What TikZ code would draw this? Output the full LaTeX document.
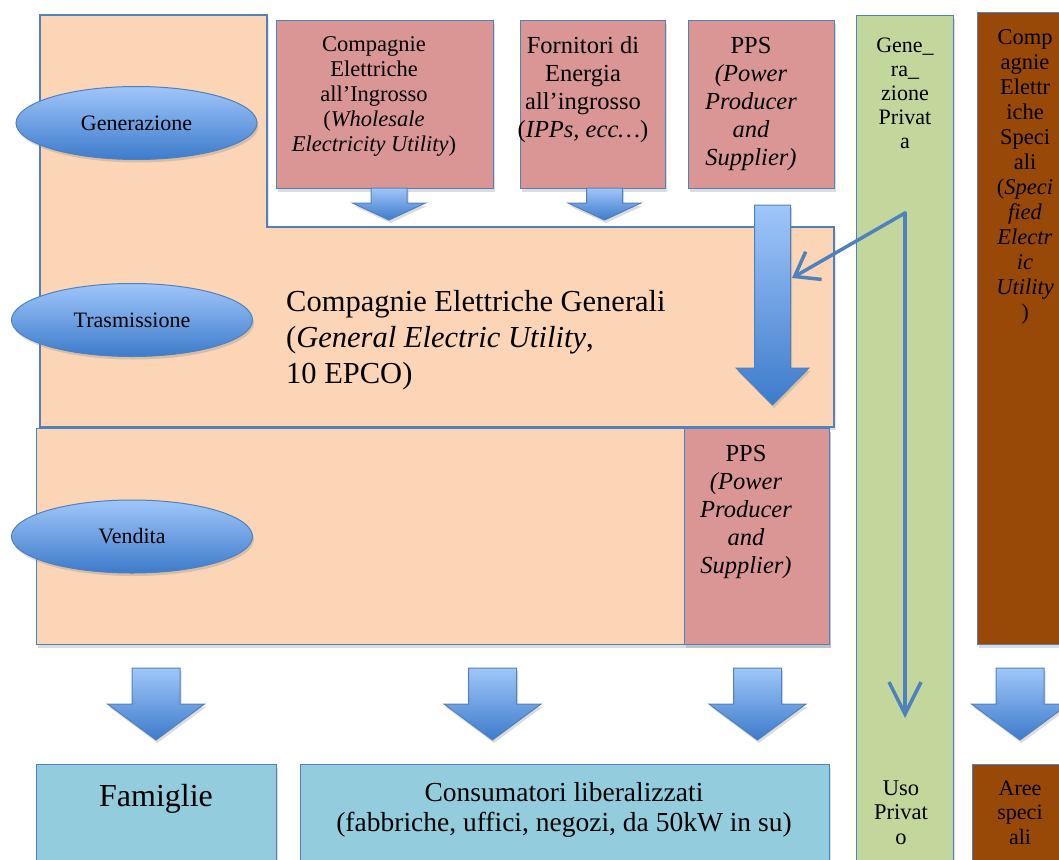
\documentclass[tikz,border=0pt]{standalone}
\usepackage{fontspec}
\setmainfont{Liberation Serif}
\usetikzlibrary{arrows.meta,shapes.geometric,shadows}
\definecolor{peach}{HTML}{FBD5B5}
\definecolor{rosebox}{HTML}{D99694}
\definecolor{greencol}{HTML}{C3D69B}
\definecolor{browncol}{HTML}{984807}
\definecolor{cyanbox}{HTML}{93CDDD}
\definecolor{edgeblue}{HTML}{4F81BD}
\definecolor{shadetop}{HTML}{A0C6FA}
\definecolor{shadebot}{HTML}{3D7BCB}
% block arrow: centre x, top y, head y, tip y, half shaft, half head
\newcommand\blockarrow[6]{%
  \path[fatarrow] (#1-#5,#2) -- (#1+#5,#2) -- (#1+#5,#3) -- (#1+#6,#3) -- (#1,#4) -- (#1-#6,#3) -- (#1-#5,#3) -- cycle;}
\begin{document}
\begin{tikzpicture}[x=1pt,y=-1pt,
  softshadow/.style={drop shadow={opacity=0.28,shadow xshift=1.5pt,shadow yshift=-3pt}},
  rect/.style={draw=edgeblue,line width=1.3pt,inner sep=0pt,anchor=north west,softshadow},
  pinkrect/.style={rect,fill=rosebox},
  peachrect/.style={rect,fill=peach},
  greenrect/.style={rect,fill=greencol},
  brownrect/.style={rect,fill=browncol},
  cyanrect/.style={rect,fill=cyanbox},
  txt/.style={inner sep=0pt,align=center,anchor=north},
  oval/.style={ellipse,draw=edgeblue,line width=1pt,top color=shadetop,bottom color=shadebot,
    minimum width=241pt,minimum height=73pt,inner sep=0pt,font=\fontsize{22}{26}\selectfont,softshadow},
  fatarrow/.style={draw=edgeblue,line width=1pt,top color=shadetop,bottom color=shadebot,softshadow},
  thinarrow/.style={draw=edgeblue,line width=3.5pt,line cap=round}
]
\useasboundingbox (0,0) rectangle (1059,859);
\clip (0,0) rectangle (1059,859);

% peach L-shaped region (generation + transmission)
\path[draw=edgeblue,line width=1.3pt,fill=peach,softshadow]
  (40,15) -- (267,15) -- (267,227) -- (834,227) -- (834,427) -- (40,427) -- cycle;
% sales region
\node[peachrect,minimum width=793pt,minimum height=216pt] (sales) at (36,428) {};
\node[pinkrect,minimum width=145pt,minimum height=216pt] (pps2) at (684,428) {};

% top producer boxes
\node[pinkrect,minimum width=217pt,minimum height=168pt] (wholesale) at (276,20) {};
\node[pinkrect,minimum width=145pt,minimum height=168pt] (ipp) at (520,20) {};
\node[pinkrect,minimum width=146pt,minimum height=168pt] (pps1) at (688,20) {};

% block arrows below top boxes
\blockarrow{389}{188}{203}{220}{18}{36.5}
\blockarrow{604.5}{188}{203}{220}{18}{36.5}
\blockarrow{772.5}{205}{368}{405}{18}{36.5}

% right columns
\node[greenrect,minimum width=97pt,minimum height=860pt] (private) at (856,15) {};
\node[brownrect,minimum width=100pt,minimum height=632pt] (special) at (977,12) {};

% thin arrows of private generation
\coordinate (gpstart) at (905,213);
\coordinate (gpend) at (905,718);
\coordinate (gptip) at (792,278);
\draw[thinarrow,-{Straight Barb[length=32pt,width=32pt]}] (gpstart) -- (gpend);
\draw[thinarrow,-{Straight Barb[length=22pt,width=32pt]}] (gpstart) -- (gptip);

% bottom block arrows
\blockarrow{156}{668}{704}{740}{24}{48.5}
\blockarrow{492.5}{668}{704}{740}{24}{48.5}
\blockarrow{757.5}{668}{704}{740}{24}{48.5}
\blockarrow{1020}{668}{704}{740}{24}{48.5}

% consumer boxes
\node[cyanrect,minimum width=240pt,minimum height=110pt] (families) at (36,764) {};
\node[cyanrect,minimum width=529pt,minimum height=110pt] (consumers) at (300,764) {};
\node[brownrect,minimum width=100pt,minimum height=110pt] (areas) at (972,764) {};

% ellipses
\node[oval] (gen) at (136.5,123) {Generazione};
\node[oval] (tra) at (132,320) {Trasmissione};
\node[oval] (ven) at (132,536.5) {Vendita};

% texts
\node[txt,font=\fontsize{22.5}{25}\selectfont] (wholesaletxt) at (374,36.9)
  {Compagnie\\Elettriche\\all’Ingrosso\\(\textit{Wholesale}\\\textit{Electricity Utility})};
\node[txt,font=\fontsize{24.5}{28}\selectfont] (ipptxt) at (583,36.2)
  {Fornitori di\\Energia\\all’ingrosso\\(\textit{IPPs, ecc…})};
\node[txt,font=\fontsize{24.5}{28}\selectfont] (pps1txt) at (751,36.9)
  {PPS\\\textit{(Power}\\\textit{Producer}\\\textit{and}\\\textit{Supplier)}};
\node[txt,font=\fontsize{22}{24}\selectfont] (privatetxt) at (905,37.6)
  {Gene\_\\ra\_\\zione\\Privat\\a};
\node[txt,font=\fontsize{22.5}{25}\selectfont] (specialtxt) at (1025,29.4)
  {Comp\\agnie\\Elettr\\iche\\Speci\\ali\\(\textit{Speci}\\\textit{fied}\\\textit{Electr}\\\textit{ic}\\\textit{Utility}\\)};
\node[inner sep=0pt,align=left,anchor=north west,font=\fontsize{30.5}{36}\selectfont] (generaltxt) at (286,290)
  {Compagnie Elettriche Generali\\(\textit{General Electric Utility},\\10 EPCO)};
\node[txt,font=\fontsize{24.5}{28}\selectfont] (pps2txt) at (746,445)
  {PPS\\\textit{(Power}\\\textit{Producer}\\\textit{and}\\\textit{Supplier)}};
\node[txt,font=\fontsize{32}{36}\selectfont] (familiestxt) at (156,784.5) {Famiglie};
\node[txt,font=\fontsize{27.5}{30}\selectfont] (consumerstxt) at (564,782)
  {Consumatori liberalizzati\\(fabbriche, uffici, negozi, da 50kW in su)};
\node[txt,font=\fontsize{22.5}{24.5}\selectfont] (usetxt) at (901,780.5) {Uso\\Privat\\o};
\node[txt,font=\fontsize{22}{24.5}\selectfont] (areastxt) at (1020,780.5) {Aree\\speci\\ali};
\end{tikzpicture}
\end{document}
